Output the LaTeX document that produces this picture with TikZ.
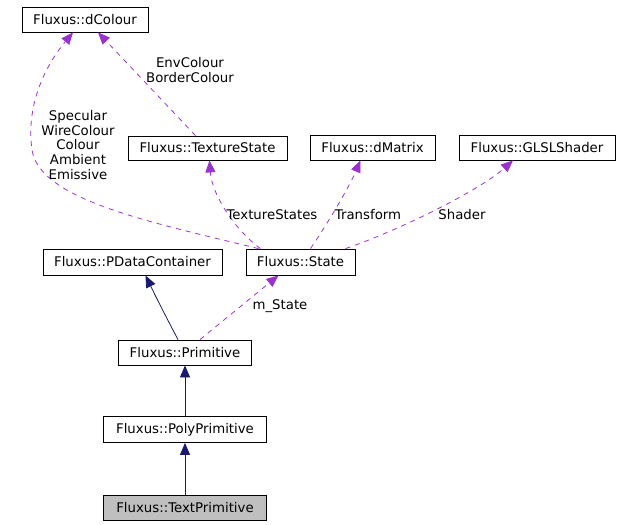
\documentclass[tikz,border=0pt]{standalone}
\usepackage{fontspec}
\setmainfont{DejaVu Sans}
\usepackage{tikz}
\usetikzlibrary{arrows.meta, positioning, calc}
\definecolor{depline}{RGB}{154,50,205}
\definecolor{inhline}{RGB}{25,25,112}
\definecolor{curfill}{RGB}{191,191,191}
\tikzset{
  cls/.style={rectangle, draw=black, fill=white, line width=0.8pt,
    inner sep=0pt, font=\fontsize{13.3}{15}\selectfont},
  curcls/.style={cls, fill=curfill},
  uses/.style={-{Triangle[length=12pt,width=10pt]}, color=depline,
    line width=0.8pt, dash pattern=on 5pt off 5pt},
  inherits/.style={-{Triangle[length=12pt,width=10pt]}, color=inhline,
    line width=0.8pt},
  lbl/.style={align=center, inner sep=0pt, font=\fontsize{13.3}{14.7}\selectfont}
}

\begin{document}
\begin{tikzpicture}[x=1pt, y=-1pt]
  \useasboundingbox (0,0) rectangle (619,525);

  % Classes
  \node[cls, minimum width=126pt, minimum height=25pt] (dcolour) at (85,19.5) {Fluxus::dColour};
  \node[cls, minimum width=159pt, minimum height=24pt] (texstate) at (207.5,148) {Fluxus::TextureState};
  \node[cls, minimum width=125pt, minimum height=25pt] (dmatrix) at (372.5,147.5) {Fluxus::dMatrix};
  \node[cls, minimum width=156pt, minimum height=25pt] (glsl) at (537,147.5) {Fluxus::GLSLShader};
  \node[cls, minimum width=179pt, minimum height=26pt] (pdata) at (132.5,262) {Fluxus::PDataContainer};
  \node[cls, minimum width=109pt, minimum height=26pt] (state) at (300.5,262) {Fluxus::State};
  \node[cls, minimum width=133pt, minimum height=25pt] (prim) at (185,352.5) {Fluxus::Primitive};
  \node[cls, minimum width=163pt, minimum height=26pt] (polyprim) at (185,429.5) {Fluxus::PolyPrimitive};
  \node[curcls, minimum width=163pt, minimum height=25pt] (textprim) at (185,507.5) {Fluxus::TextPrimitive};

  % Usage relations
  \draw[uses] ([xshift=-42pt]state.north) .. controls (150,222) and (40,200) .. (32,150)
    .. controls (25,100) and (50,60) .. ([xshift=-12pt]dcolour.south);
  \draw[uses] ([xshift=-12pt]texstate.north) -- ([xshift=13pt]dcolour.south);
  \draw[uses] ([xshift=-40pt]state.north) .. controls (235,230) and (212,195) .. ([xshift=2pt]texstate.south);
  \draw[uses] ([xshift=10pt]state.north) .. controls (330,220) and (350,185) .. ([xshift=-12pt]dmatrix.south);
  \draw[uses] ([xshift=45pt]state.north) .. controls (400,230) and (480,190) .. ([xshift=-24pt]glsl.south);
  \draw[uses] ([xshift=15pt]prim.north) -- ([xshift=-22pt]state.south);

  % Inheritance
  \draw[inherits] ([xshift=-7pt]prim.north) .. controls (165,315) and (155,295) .. ([xshift=13pt]pdata.south);
  \draw[inherits] (polyprim.north) -- (prim.south);
  \draw[inherits] (textprim.north) -- (polyprim.south);

  % Labels
  \node[lbl] (lcolour) at (78,145) {Specular\\WireColour\\Colour\\Ambient\\Emissive};
  \node[lbl] (lenv) at (190,70) {EnvColour\\BorderColour};
  \node[lbl] (ltex) at (272,215) {TextureStates};
  \node[lbl] (ltrans) at (368,215) {Transform};
  \node[lbl] (lshader) at (462,215) {Shader};
  \node[lbl] (lstate) at (280,306) {m\_State};
\end{tikzpicture}
\end{document}
